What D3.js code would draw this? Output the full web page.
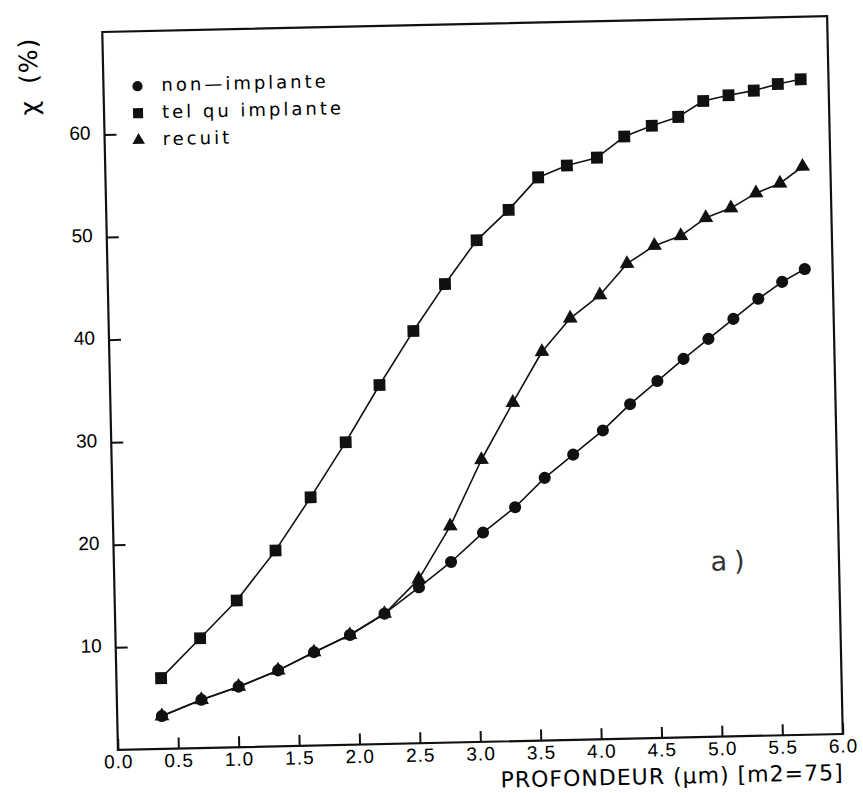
<!DOCTYPE html>
<html>
<head lang="fr">
    <meta charset="UTF-8">
    <title></title>
    <style>
        body {
            margin: 0;
            background: #fff;
        }
        svg {
            font-family: "DejaVu Sans", sans-serif;
        }
        .axis text {
            font-size: 19px;
            letter-spacing: 1px;
            fill: #000;
        }
        .axis line {
            stroke: #111;
            stroke-width: 2;
        }
    </style>
</head>
<body>
    <svg id="chart" width="863" height="793"></svg>
</body>
<script src="https://cdn.jsdelivr.net/npm/d3@7"></script>
<script>

    // profondeur (um)
    let depth = [0.37, 0.70, 1.01, 1.34, 1.64, 1.94, 2.23, 2.52, 2.79, 3.06, 3.33,
                 3.58, 3.82, 4.07, 4.30, 4.53, 4.75, 4.96, 5.17, 5.38, 5.58, 5.77];

    let nonImplante   = [3.2, 4.7, 5.9, 7.4, 9.1, 10.7, 12.7, 15.2, 17.6, 20.4, 22.8,
                         25.6, 27.8, 30.1, 32.6, 34.8, 36.9, 38.8, 40.7, 42.6, 44.2, 45.4];
    let telQuImplante = [6.9, 10.7, 14.3, 19.1, 24.2, 29.5, 35.0, 40.2, 44.7, 48.9, 51.8,
                         54.9, 56.0, 56.7, 58.7, 59.7, 60.5, 62.0, 62.5, 62.9, 63.5, 63.9];
    let recuit        = [3.2, 4.7, 5.9, 7.4, 9.1, 10.7, 12.7, 16.0, 21.1, 27.5, 33.0,
                         37.9, 41.1, 43.3, 46.3, 48.0, 48.9, 50.6, 51.5, 52.9, 53.8, 55.4];

    let seriesNames = ['non\u2014implante', 'tel qu implante', 'recuit'];
    let xTicks = [0.0, 0.5, 1.0, 1.5, 2.0, 2.5, 3.0, 3.5, 4.0, 4.5, 5.0, 5.5, 6.0];
    let yTicks = [10, 20, 30, 40, 50, 60];

    let margin = {top: 24, left: 110};
    let width = 725;
    let height = 718;

    let series = [
        {name: seriesNames[0], values: nonImplante,   symbol: d3.symbolCircle,   size: 115},
        {name: seriesNames[1], values: telQuImplante, symbol: d3.symbolSquare,   size: 140},
        {name: seriesNames[2], values: recuit,        symbol: d3.symbolTriangle, size: 95}
    ];

    // the scanned figure is slightly tilted
    let svg = d3.select('#chart');
    let page = svg.append('g')
        .attr('transform', 'rotate(-1.25, 472.5, 382)');

    let canvas = page.append('g')
        .attr('transform', 'translate(' + margin.left + ',' + margin.top + ')');

    let x = d3.scaleLinear()
        .domain([0, 6])
        .range([0, width]);

    let y = d3.scaleLinear()
        .domain([0, 70])
        .range([height, 0]);

    canvas.append('g')
        .attr('class', 'axis')
        .attr('transform', 'translate(0,' + height + ')')
        .call(d3.axisBottom(x)
            .tickValues(xTicks)
            .tickSizeInner(-11)
            .tickSizeOuter(0)
            .tickPadding(5)
            .tickFormat(d3.format('.1f')))
        .call(g => g.select('.domain').remove())
        .call(g => g.selectAll('text').attr('font-family', null));

    canvas.append('g')
        .attr('class', 'axis')
        .call(d3.axisLeft(y)
            .tickValues(yTicks)
            .tickSizeInner(-12)
            .tickSizeOuter(0)
            .tickPadding(14))
        .call(g => g.select('.domain').remove())
        .call(g => g.selectAll('text').attr('dy', '0.22em').style('letter-spacing', '0px'));

    canvas.append('rect')
        .attr('width', width)
        .attr('height', height)
        .attr('fill', 'none')
        .attr('stroke', '#111')
        .attr('stroke-width', 2.2);

    let line = d3.line()
        .x((d, i) => x(depth[i]))
        .y(d => y(d));

    canvas.selectAll('.serie')
        .data(series)
        .enter()
        .append('path')
        .attr('class', 'serie')
        .attr('fill', 'none')
        .attr('stroke', '#111')
        .attr('stroke-width', 1.6)
        .attr('stroke-linejoin', 'round')
        .attr('d', s => line(s.values));

    series.forEach(s => {
        canvas.append('g')
            .selectAll('path')
            .data(s.values)
            .enter()
            .append('path')
            .attr('transform', (d, i) => 'translate(' + x(depth[i]) + ',' + y(d) + ')')
            .attr('d', d3.symbol().type(s.symbol).size(s.size))
            .attr('fill', '#111');
    });

    // legend
    let legend = page.append('g')
        .attr('transform', 'translate(144,79)');

    let item = legend.selectAll('g')
        .data(series)
        .enter()
        .append('g')
        .attr('transform', (d, i) => 'translate(0,' + i * 27 + ')');

    item.append('path')
        .attr('d', d => d3.symbol().type(d.symbol).size(d.size * 0.72)())
        .attr('fill', '#111');

    item.append('text')
        .attr('x', 24)
        .attr('dy', '0.3em')
        .attr('font-size', 18)
        .attr('letter-spacing', 3)
        .attr('fill', '#000')
        .text(d => d.name);

    // axis titles
    let yTitle = page.append('text')
        .attr('transform', 'translate(44,67) rotate(-90)')
        .attr('text-anchor', 'middle')
        .attr('font-size', 25)
        .attr('letter-spacing', 1)
        .attr('fill', '#000');
    yTitle.append('tspan').text('\u03c7');
    yTitle.append('tspan').attr('dx', 16).text('(%)');

    page.append('text')
        .attr('x', margin.left + width)
        .attr('y', 788)
        .attr('text-anchor', 'end')
        .attr('font-size', 22)
        .attr('letter-spacing', 1)
        .attr('fill', '#000')
        .text('PROFONDEUR (\u03bcm) [m2=75]');

    page.append('text')
        .attr('x', 727)
        .attr('y', 576)
        .attr('text-anchor', 'middle')
        .attr('font-size', 27)
        .attr('letter-spacing', 7)
        .attr('fill', '#333')
        .text('a)');

</script>
</html>
